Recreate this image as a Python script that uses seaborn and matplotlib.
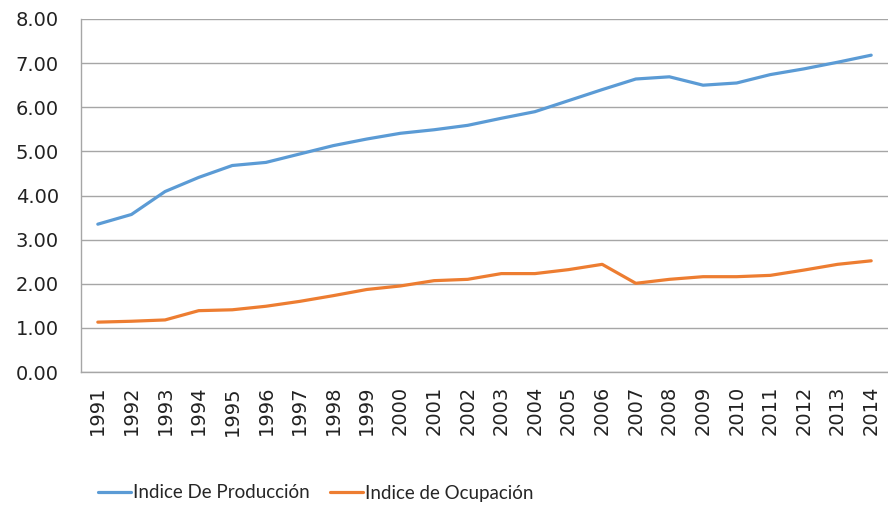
import numpy as np
import pandas as pd
import matplotlib.pyplot as plt
import seaborn as sns
from matplotlib.ticker import FixedLocator

sns.set_style("white")

years = list(range(1991, 2015))
produccion = [3.35, 3.57, 4.09, 4.41, 4.68, 4.75, 4.94, 5.13, 5.28, 5.41, 5.49, 5.59,
              5.75, 5.90, 6.15, 6.40, 6.64, 6.69, 6.50, 6.55, 6.74, 6.87, 7.02, 7.18]
ocupacion = [1.13, 1.15, 1.18, 1.39, 1.41, 1.49, 1.60, 1.73, 1.87, 1.95, 2.07, 2.10,
             2.23, 2.23, 2.32, 2.44, 2.01, 2.10, 2.16, 2.16, 2.19, 2.31, 2.44, 2.52]
series_names = ["Indice De Producción", "Indice de Ocupación"]
colors = ["#5B9BD5", "#ED7D31"]

df = pd.DataFrame({
    "year": years * 2,
    "value": produccion + ocupacion,
    "serie": [series_names[0]] * len(years) + [series_names[1]] * len(years),
})

fig = plt.figure(figsize=(8.88, 5.08), dpi=100)
ax = fig.add_axes([81 / 888, 1 - 372 / 508, 1 - 81 / 888, (372 - 19) / 508])

sns.lineplot(data=df, x="year", y="value", hue="serie", palette=colors,
             linewidth=2.3, ax=ax, legend=True)

ax.set_xlim(1990.5, 2014.5)
ax.set_ylim(0, 8)
ax.set_yticks(np.arange(0, 9, 1))
ax.set_yticklabels([f"{v:.2f}" for v in np.arange(0, 9, 1)], fontsize=14, color="#222222")
ax.set_xticks(years)
ax.set_xticklabels([str(y) for y in years], rotation=90, fontsize=14, color="#222222")
ax.xaxis.set_minor_locator(FixedLocator([y + 0.5 for y in range(1990, 2015)]))
ax.tick_params(axis="x", which="major", length=0, pad=10)
ax.tick_params(axis="x", which="minor", length=6, width=1, color="#A6A6A6", direction="out")
ax.tick_params(axis="y", which="major", length=8, width=1, color="#A6A6A6", direction="out", pad=8)
ax.set_xlabel("")
ax.set_ylabel("")

ax.grid(axis="y", color="#A6A6A6", linewidth=1)
ax.set_axisbelow(True)
for s in ["top", "right"]:
    ax.spines[s].set_visible(False)
for s in ["left", "bottom"]:
    ax.spines[s].set_color("#A6A6A6")
    ax.spines[s].set_linewidth(1)

handles, labels = ax.get_legend_handles_labels()
ax.legend_.remove()
fig.legend(handles, labels, loc="center left", bbox_to_anchor=(98 / 888, 1 - 493 / 508),
           ncol=2, frameon=False, borderpad=0, borderaxespad=0,
           handlelength=1.75, handletextpad=0.1, columnspacing=1.1,
           prop={"family": ["Lato", "DejaVu Sans"], "size": 13.5})

fig.savefig("out.png", dpi=100)
